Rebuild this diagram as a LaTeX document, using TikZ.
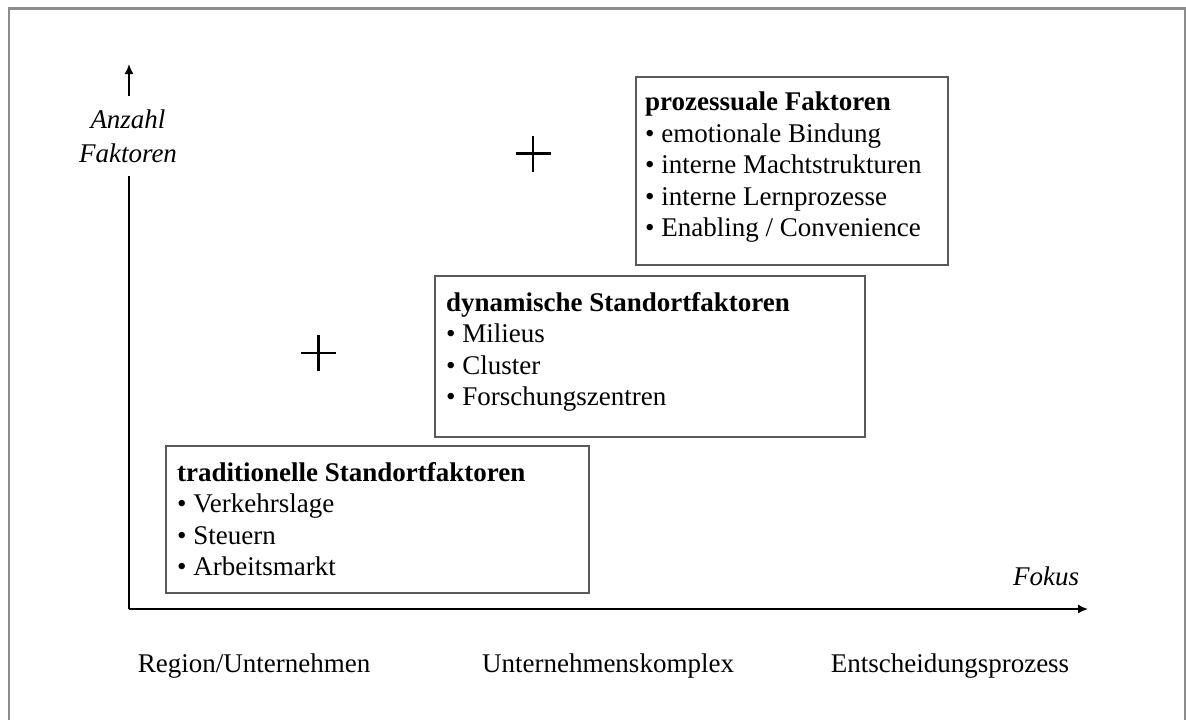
\documentclass[tikz,border=0pt]{standalone}
\usepackage{fontspec}
\setmainfont{Liberation Serif}
\usetikzlibrary{arrows.meta,positioning}
\tikzset{
  factbox/.style={draw=black!65,line width=1.8pt,anchor=north west,inner sep=0pt},
  factlist/.style={align=left,inner sep=0pt,font=\fontsize{27}{31.5}\selectfont},
  axislabel/.style={font=\fontsize{27}{34}\selectfont\itshape},
  levellabel/.style={anchor=base,inner sep=0pt,font=\fontsize{27}{32}\selectfont},
  plusmark/.style={line width=2.6pt},
  axis/.style={line width=1.6pt,-{Latex[length=10pt,width=9pt]}}
}

\begin{document}
\begin{tikzpicture}[x=1pt,y=-1pt]
	\useasboundingbox (0,0) rectangle (1186,720);
	% outer frame
	\draw[black!45,line width=2.6pt](9,722) -- (9,8.7) -- (1184.8,8.7) -- (1184.8,722);
	% axes
	\coordinate(O) at (129,609);
	\coordinate(ytip) at (129,64);
	\coordinate(xtip) at (1088,609);
	\draw[axis](O) -- (ytip);
	\draw[axis](O) -- (xtip);
	\node(anzahl)[axislabel,fill=white,align=center,inner xsep=3pt,inner ysep=13pt] at (128,136){Anzahl\\Faktoren};
	\node(fokus)[axislabel,anchor=base,inner sep=0pt] at (1046,585){Fokus};
	% levels on the x axis
	\node(region)[levellabel] at (254,672){Region/Unternehmen};
	\node(komplex)[levellabel] at (608,672){Unternehmenskomplex};
	\node(entscheidung)[levellabel] at (950,672){Entscheidungsprozess};
	% boxes
	\node(tradbox)[factbox,minimum width=423pt,minimum height=147pt] at (165,445){};
	\node(tradtext)[factlist,below right=17pt and 12pt of tradbox.north west]{\textbf{traditionelle Standortfaktoren}\\%
		• Verkehrslage\\• Steuern\\• Arbeitsmarkt};
	\node(dynbox)[factbox,minimum width=430pt,minimum height=161pt] at (434,275){};
	\node(dyntext)[factlist,below right=17pt and 12pt of dynbox.north west]{\textbf{dynamische Standortfaktoren}\\%
		• Milieus\\• Cluster\\• Forschungszentren};
	\node(probox)[factbox,minimum width=312pt,minimum height=188pt] at (635,76){};
	\node(protext)[factlist,below right=16pt and 10pt of probox.north west]{\textbf{prozessuale Faktoren}\\%
		• emotionale Bindung\\• interne Machtstrukturen\\• interne Lernprozesse\\• Enabling / Convenience};
	% plus signs
	\coordinate(plusA) at (318.5,353);
	\coordinate(plusB) at (533,153.5);
	\draw[plusmark]([yshift=-18pt]plusA) -- ([yshift=18pt]plusA) ([xshift=-17.5pt]plusA) -- ([xshift=17.5pt]plusA);
	\draw[plusmark]([yshift=-18pt]plusB) -- ([yshift=18pt]plusB) ([xshift=-17.5pt]plusB) -- ([xshift=17.5pt]plusB);
\end{tikzpicture}
\end{document}
